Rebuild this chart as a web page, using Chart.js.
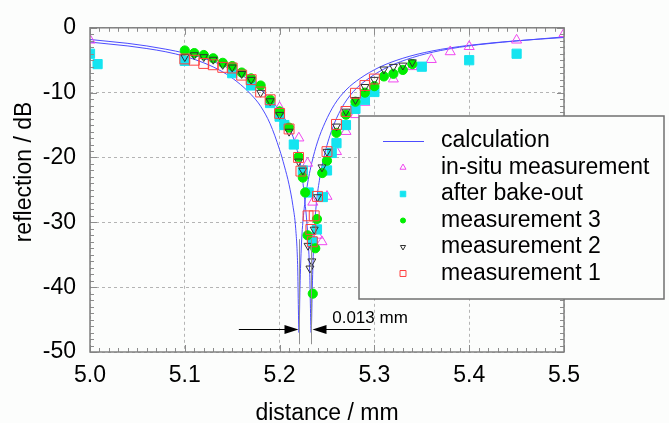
<!DOCTYPE html>
<html>
<head>
<meta charset="utf-8">
<script src="https://cdn.jsdelivr.net/npm/chart.js@4.4.0/dist/chart.umd.min.js"></script>
<style>
  html, body { margin: 0; padding: 0; background: #fcfdfc; }
</style>
</head>
<body>
<canvas id="myChart" width="669" height="423"></canvas>
<script>
// calculated curves (two dips, 0.013 mm apart)
const calcAx = [5.000, 5.020, 5.040, 5.060, 5.080, 5.100, 5.120, 5.140, 5.155, 5.170, 5.180, 5.190, 5.200, 5.205, 5.210, 5.214, 5.217, 5.219, 5.2205,
                5.2215, 5.223, 5.2255, 5.229, 5.234, 5.240, 5.248, 5.258, 5.270, 5.285, 5.305, 5.330, 5.360, 5.400, 5.450, 5.500];
const calcAy = [-2.2, -2.5, -2.8, -3.2, -3.7, -4.4, -5.4, -6.8, -8.3, -10.3, -12.1, -14.8, -18.8, -21.3, -24.2, -27.4, -31.0, -36.5, -47.0,
                -40.0, -33.5, -28.5, -24.5, -20.8, -17.6, -14.6, -11.8, -9.6, -7.8, -6.1, -4.7, -3.6, -2.7, -2.0, -1.5];
const calcBx = [5.000, 5.020, 5.040, 5.060, 5.080, 5.100, 5.120, 5.140, 5.160, 5.175, 5.190, 5.200, 5.210, 5.218, 5.223, 5.2265, 5.2295, 5.2318, 5.2333,
                5.2345, 5.236, 5.2385, 5.242, 5.247, 5.255, 5.265, 5.278, 5.295, 5.315, 5.340, 5.370, 5.410, 5.460, 5.500];
const calcBy = [-1.8, -2.1, -2.4, -2.8, -3.3, -3.9, -4.7, -5.8, -7.3, -8.9, -11.0, -12.8, -15.3, -18.6, -22.0, -26.5, -31.5, -38.0, -47.0,
                -40.0, -33.0, -27.5, -23.5, -19.8, -15.8, -12.5, -9.8, -7.7, -6.0, -4.6, -3.5, -2.6, -1.9, -1.4];

const inSituX = [5.00, 5.20, 5.2203, 5.2295, 5.235, 5.24, 5.2447, 5.25, 5.26, 5.27, 5.28, 5.29, 5.32, 5.34, 5.36, 5.38, 5.40, 5.45, 5.50];
const inSituY = [-1.9, -12.3, -17.0, -20.9, -26.9, -32.0, -33.0, -26.0, -19.1, -16.0, -13.4, -11.5, -7.9, -6.0, -4.9, -3.7, -2.9, -1.9, -0.9];

const bakeX = [5.00, 5.008, 5.10, 5.15, 5.17, 5.19, 5.20, 5.205, 5.215, 5.2245, 5.2306, 5.235, 5.2394, 5.2456, 5.25, 5.255, 5.26, 5.27, 5.28, 5.29, 5.30, 5.35, 5.40, 5.45];
const bakeY = [-4.0, -5.6, -5.1, -7.0, -8.9, -11.6, -13.7, -15.0, -18.0, -22.0, -25.4, -33.0, -31.1, -26.1, -22.0, -19.3, -17.8, -15.0, -12.5, -11.1, -9.9, -6.0, -5.0, -4.0];

const meas3X = [5.10, 5.11, 5.12, 5.13, 5.14, 5.15, 5.16, 5.17, 5.18, 5.19, 5.20, 5.21, 5.22, 5.2245, 5.227, 5.2295, 5.235, 5.2376, 5.2394,
                5.245, 5.25, 5.26, 5.27, 5.28, 5.29, 5.30, 5.31, 5.32, 5.33, 5.34];
const meas3Y = [-3.5, -3.9, -4.2, -4.7, -5.4, -5.9, -6.9, -7.8, -8.9, -11.1, -12.9, -15.4, -19.9, -23.1, -25.4, -32.0, -41.0, -34.0, -29.5,
                -22.4, -20.5, -16.2, -13.4, -11.4, -10.0, -9.0, -7.5, -7.1, -6.5, -5.6];

const meas2X = [5.10, 5.11, 5.12, 5.13, 5.14, 5.15, 5.16, 5.17, 5.18, 5.19, 5.20, 5.21, 5.22, 5.2245, 5.23, 5.232, 5.234, 5.2365, 5.24,
                5.2447, 5.25, 5.26, 5.27, 5.28, 5.29, 5.30, 5.31, 5.32, 5.33, 5.34];
const meas2Y = [-4.5, -4.2, -4.5, -4.9, -5.7, -6.1, -7.1, -8.0, -10.0, -11.3, -13.4, -16.0, -20.6, -22.0, -33.6, -37.1, -36.0, -31.1, -26.1,
                -21.5, -19.1, -15.2, -12.9, -11.1, -9.1, -8.0, -6.4, -6.0, -5.8, -5.3];

const meas1X = [5.10, 5.11, 5.12, 5.13, 5.14, 5.15, 5.16, 5.17, 5.18, 5.19, 5.20, 5.21, 5.22, 5.2225, 5.23, 5.233, 5.2345, 5.2365, 5.24,
                5.25, 5.26, 5.27, 5.28, 5.29, 5.30];
const meas1Y = [-4.8, -5.0, -5.5, -5.7, -6.1, -6.2, -7.3, -8.0, -9.9, -11.1, -13.2, -15.6, -20.0, -22.1, -29.0, -31.1, -33.0, -29.0, -26.0,
                -19.1, -14.9, -12.9, -10.1, -8.9, -7.9];

// the "0.013 mm" marker
const dipLeft = 5.2204;
const dipRight = 5.2331;
const arrowLevel = -46.5;
const arrowText = '0.013 mm';

const FONT = "'Liberation Sans', Arial, sans-serif";
const BG = '#fcfdfc';

function pts(xs, ys)
{
    return xs.map((x, i) => ({ x: x, y: ys[i] }));
}

const markerSets =
[
    { label: 'measurement 1', data: pts(meas1X, meas1Y), pointStyle: 'rect', pointRadius: 7, pointRotation: 0,
      backgroundColor: 'rgba(0,0,0,0)', borderColor: '#ff4040', order: 1 },
    { label: 'measurement 2', data: pts(meas2X, meas2Y), pointStyle: 'triangle', pointRadius: 4.6, pointRotation: 180,
      backgroundColor: 'rgba(0,0,0,0)', borderColor: '#303030', order: 2 },
    { label: 'measurement 3', data: pts(meas3X, meas3Y), pointStyle: 'circle', pointRadius: 4.6,
      backgroundColor: '#00ee00', borderColor: '#00ee00', order: 3 },
    { label: 'after bake-out', data: pts(bakeX, bakeY), pointStyle: 'rect', pointRadius: 6.5,
      backgroundColor: '#14e4f0', borderColor: '#14e4f0', order: 4 },
    { label: 'in-situ measurement', data: pts(inSituX, inSituY), pointStyle: 'triangle', pointRadius: 5.8,
      backgroundColor: 'rgba(0,0,0,0)', borderColor: '#f048f0', order: 5 }
];

const legendScale = [0.6, 0.6, 0.6, 0.55, 0.65, 0.6];

const datasets = markerSets.map(s => Object.assign({ borderWidth: 1, showLine: false }, s));
datasets.push({ label: 'calculation', data: pts(calcAx, calcAy), showLine: true, pointRadius: 0, borderColor: '#4c4cff',
                borderWidth: 1, cubicInterpolationMode: 'monotone', order: 6 });
datasets.push({ label: 'calculation', data: pts(calcBx, calcBy), showLine: true, pointRadius: 0, borderColor: '#4c4cff',
                borderWidth: 1, cubicInterpolationMode: 'monotone', order: 6 });

// legend rows in the order shown in the picture
const legendOrder = ['calculation', 'in-situ measurement', 'after bake-out', 'measurement 3', 'measurement 2', 'measurement 1'];

const background =
{
    id: 'background',
    beforeDraw(chart)
    {
        const ctx = chart.ctx;
        ctx.save();
        ctx.fillStyle = BG;
        ctx.fillRect(0, 0, chart.width, chart.height);
        ctx.restore();
    }
};

const frameAndLegend =
{
    id: 'frameAndLegend',
    afterDatasetsDraw(chart)
    {
        const ctx = chart.ctx;
        const a = chart.chartArea;
        const xs = chart.scales.x;
        const ys = chart.scales.y;
        ctx.save();

        // inner ticks on all four sides
        ctx.strokeStyle = '#8c8c8c';
        ctx.lineWidth = 1;
        ctx.beginPath();
        for (let i = 0; i <= 50; i++)
        {
            const px = Math.round(xs.getPixelForValue(5 + i / 100)) + 0.5;
            const len = i % 10 === 0 ? 7 : 4;
            ctx.moveTo(px, a.bottom); ctx.lineTo(px, a.bottom - len);
            ctx.moveTo(px, a.top); ctx.lineTo(px, a.top + len);
        }
        for (let v = -50; v <= 0; v++)
        {
            const py = Math.round(ys.getPixelForValue(v)) + 0.5;
            const len = v % 10 === 0 ? 7 : 4;
            ctx.moveTo(a.left, py); ctx.lineTo(a.left + len, py);
            ctx.moveTo(a.right, py); ctx.lineTo(a.right - len, py);
        }
        ctx.stroke();

        ctx.strokeStyle = '#808080';
        ctx.lineWidth = 1.5;
        ctx.strokeRect(a.left, a.top, a.right - a.left, a.bottom - a.top);

        // y axis title
        ctx.save();
        ctx.translate(25, 172);
        ctx.rotate(-Math.PI / 2);
        ctx.font = '23px ' + FONT;
        ctx.fillStyle = '#000';
        ctx.textAlign = 'center';
        ctx.textBaseline = 'middle';
        ctx.fillText('reflection / dB', 0, 0);
        ctx.restore();

        // 0.013 mm annotation
        const xl = Math.round(xs.getPixelForValue(dipLeft)) + 0.5;
        const xr = Math.round(xs.getPixelForValue(dipRight)) + 0.5;
        const yA = Math.round(ys.getPixelForValue(arrowLevel)) + 0.5;
        ctx.strokeStyle = '#909090';
        ctx.lineWidth = 1;
        ctx.beginPath();
        ctx.moveTo(xl, ys.getPixelForValue(-32.6)); ctx.lineTo(xl, ys.getPixelForValue(-48.8));
        ctx.moveTo(xr, ys.getPixelForValue(-32.6)); ctx.lineTo(xr, ys.getPixelForValue(-48.8));
        ctx.stroke();
        ctx.strokeStyle = '#000';
        ctx.beginPath();
        ctx.moveTo(xs.getPixelForValue(5.157), yA); ctx.lineTo(xl - 14, yA);
        ctx.moveTo(xr + 14, yA); ctx.lineTo(xs.getPixelForValue(5.296), yA);
        ctx.stroke();
        ctx.fillStyle = '#000';
        ctx.beginPath();
        ctx.moveTo(xl - 1, yA); ctx.lineTo(xl - 15, yA - 4.5); ctx.lineTo(xl - 15, yA + 4.5); ctx.closePath();
        ctx.moveTo(xr + 1, yA); ctx.lineTo(xr + 15, yA - 4.5); ctx.lineTo(xr + 15, yA + 4.5); ctx.closePath();
        ctx.fill();
        ctx.font = '17px ' + FONT;
        ctx.textBaseline = 'middle';
        ctx.textAlign = 'left';
        ctx.fillText(arrowText, xs.getPixelForValue(5.2555), ys.getPixelForValue(-44.85));

        // legend box
        const bx = 359, by = 116, bw = 305, bh = 183;
        ctx.fillStyle = BG;
        ctx.fillRect(bx, by, bw, bh);
        ctx.strokeStyle = '#707070';
        ctx.lineWidth = 1.5;
        ctx.strokeRect(bx, by, bw, bh);
        ctx.font = '23px ' + FONT;
        ctx.textAlign = 'left';
        ctx.textBaseline = 'middle';
        legendOrder.forEach((name, i) =>
        {
            const ds = chart.data.datasets.find(d => d.label === name);
            const cy = by + 25 + i * 26.5;
            const sx = bx + 44;
            if (ds.showLine)
            {
                ctx.strokeStyle = ds.borderColor;
                ctx.lineWidth = 1;
                ctx.beginPath();
                ctx.moveTo(sx - 20, cy + 0.5); ctx.lineTo(sx + 21, cy + 0.5);
                ctx.stroke();
            }
            else
            {
                ctx.fillStyle = ds.backgroundColor;
                ctx.strokeStyle = ds.borderColor;
                ctx.lineWidth = 1;
                Chart.helpers.drawPoint(ctx, { pointStyle: ds.pointStyle, radius: ds.pointRadius * legendScale[i],
                                              rotation: ds.pointRotation || 0, borderWidth: 1 }, sx, cy);
            }
            ctx.fillStyle = '#000';
            ctx.fillText(name, bx + 82, cy);
        });

        ctx.restore();
    }
};

const config =
{
    type: 'scatter',
    data: { datasets: datasets },
    options:
    {
        responsive: false,
        animation: false,
        devicePixelRatio: 1,
        layout: { padding: { top: 12, right: 105, left: 0, bottom: 0 } },
        plugins: { legend: { display: false }, tooltip: { enabled: false } },
        scales:
        {
            x:
            {
                type: 'linear', min: 5.0, max: 5.5,
                afterFit(scale) { scale.height = 71; },
                ticks: { stepSize: 0.1, padding: 10, color: '#000', font: { family: FONT, size: 23 },
                         callback: v => v.toFixed(1) },
                grid: { color: '#b4b4b4', drawTicks: false, lineWidth: 1 },
                border: { display: false, dash: [3, 3] },
                title: { display: true, text: 'distance / mm', color: '#000', font: { family: FONT, size: 23, lineHeight: 0.8 },
                         padding: { top: 0, bottom: 0 } }
            },
            y:
            {
                type: 'linear', min: -50, max: 0,
                afterFit(scale) { scale.width = 90; },
                ticks: { stepSize: 10, padding: 14, color: '#000', font: { family: FONT, size: 23 },
                         callback: v => String(v) },
                grid: { color: '#b4b4b4', drawTicks: false, lineWidth: 1 },
                border: { display: false, dash: [3, 3] },
                title: { display: false }
            }
        }
    },
    plugins: [background, frameAndLegend]
};

new Chart(document.getElementById('myChart'), config);
</script>
</body>
</html>
